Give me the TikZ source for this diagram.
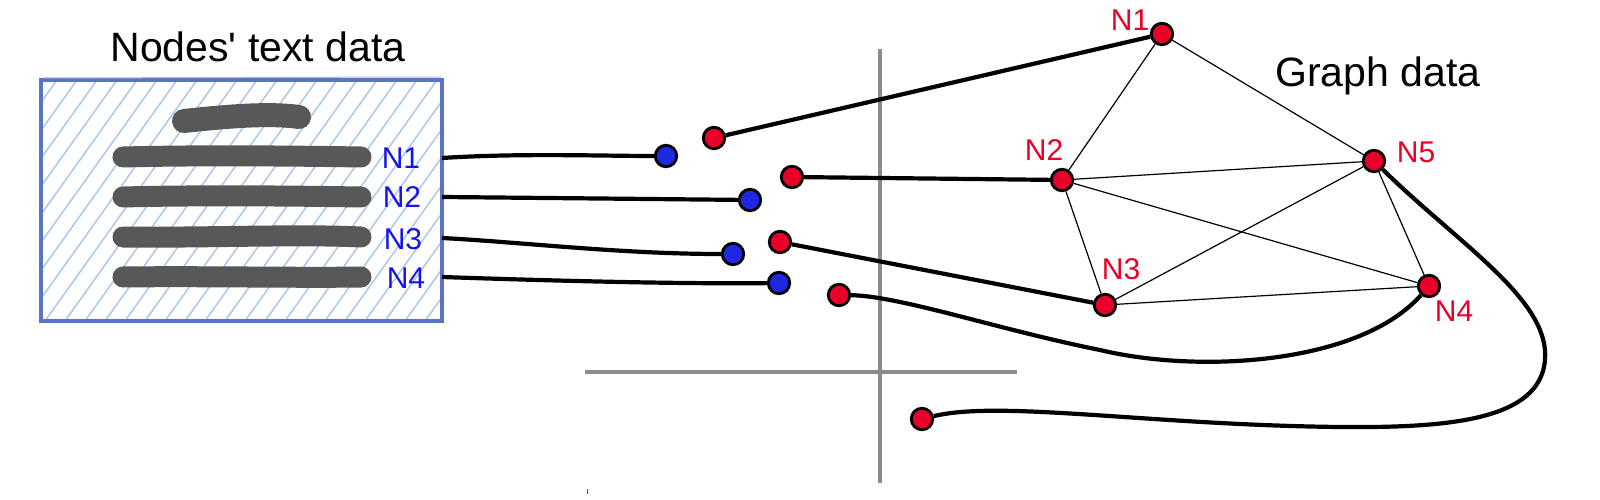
\documentclass[tikz,border=0pt]{standalone}
\usepackage{fontspec}
\setmainfont{Liberation Sans}
\definecolor{nred}{RGB}{232,0,40}
\definecolor{nblue}{RGB}{30,40,225}
\definecolor{lblue}{RGB}{20,20,235}
\definecolor{boxblue}{RGB}{88,115,200}
\definecolor{hatchc}{RGB}{172,198,236}
\definecolor{barc}{RGB}{88,88,88}
\definecolor{axisgray}{RGB}{140,140,140}
\tikzset{
  reddot/.style={circle, fill=nred, draw=black, line width=2.8pt, minimum size=21.5pt, inner sep=0pt},
  bluedot/.style={circle, fill=nblue, draw=black, line width=2.8pt, minimum size=21.5pt, inner sep=0pt},
  conn/.style={line width=4.2pt, black},
  gedge/.style={line width=1.2pt, black},
  bluelab/.style={text=lblue, font=\fontsize{30}{32}\selectfont, inner sep=0pt},
  redlab/.style={text=nred, font=\fontsize{30}{32}\selectfont, inner sep=0pt},
  titletext/.style={font=\fontsize{41}{48}\selectfont, inner sep=0pt, anchor=base},
  textbar/.style={line width=21pt, line cap=round, barc},
  hatchline/.style={hatchc, line width=1.5pt},
  axisline/.style={axisgray, line width=3.5pt},
}
\begin{document}
\begin{tikzpicture}[x=1pt, y=-1pt]
\useasboundingbox (0,0) rectangle (1600,500);

% text box
\begin{scope}
  \clip (41,80) rectangle (442,321);
  \foreach \i in {0,...,30} {
    \draw[hatchline] ({\i*20-135},321) -- ++(172,-241);
  }
\end{scope}
\draw[textbar, line width=24pt] (184,121) .. controls (230,116) and (270,113) .. (299,117);
\draw[textbar] (123,157) .. controls (200,155) and (300,156) .. (361,157);
\draw[textbar] (123,197) .. controls (200,195) and (300,196) .. (361,197);
\draw[textbar] (123,237) .. controls (200,238) and (300,234) .. (361,237);
\draw[textbar] (123,277) .. controls (200,276) and (300,278) .. (361,277);
\draw[boxblue, line width=3.2pt] (41,80) rectangle (442,321);
\draw[boxblue!50, line width=1pt] (43,78) -- (441,77);

\node[titletext] (ttl) at (258,62) {Nodes\textquotesingle{} text data};
\node[titletext] (gtl) at (1378,87) {Graph data};

% labels in box
\node[bluelab] (l1) at (401,158) {N1};
\node[bluelab] (l2) at (402,197) {N2};
\node[bluelab] (l3) at (403,239) {N3};
\node[bluelab] (l4) at (406,278) {N4};

\coordinate (b1) at (442,158);
\coordinate (b2) at (442,197);
\coordinate (b3) at (442,238);
\coordinate (b4) at (442,277);

% axes
\draw[axisline] (880,49) -- (880,483);
\draw[axisline] (585,372) -- (1017,372);
\draw[black!70, line width=1pt] (587,489) -- (587,494);

% dots
\node[bluedot] (d1) at (666,156) {};
\node[bluedot] (d2) at (750,200) {};
\node[bluedot] (d3) at (733,254) {};
\node[bluedot] (d4) at (779,283) {};

\node[reddot] (r1) at (714,138) {};
\node[reddot] (r2) at (792,177) {};
\node[reddot] (r3) at (780,242) {};
\node[reddot] (r4) at (839,295) {};
\node[reddot] (r5) at (922,419) {};

\node[reddot] (g1) at (1162,34) {};
\node[reddot] (g2) at (1062,180) {};
\node[reddot] (g3) at (1105,305) {};
\node[reddot] (g4) at (1429,286) {};
\node[reddot] (g5) at (1374,161) {};

\node[redlab] (m1) at (1130,20) {N1};
\node[redlab] (m2) at (1044,150) {N2};
\node[redlab] (m3) at (1121,269) {N3};
\node[redlab] (m4) at (1454,311) {N4};
\node[redlab] (m5) at (1416,152) {N5};

% graph edges
\draw[gedge] (g1) -- (g2);
\draw[gedge] (g1) -- (g5);
\draw[gedge] (g2) -- (g5);
\draw[gedge] (g2) -- (g3);
\draw[gedge] (g2) -- (g4);
\draw[gedge] (g3) -- (g5);
\draw[gedge] (g3) -- (g4);
\draw[gedge] (g5) -- (g4);

% connectors
\draw[conn] (b1) .. controls (520,153) and (600,156) .. (d1);
\draw[conn] (b2) .. controls (550,198) and (650,199) .. (d2);
\draw[conn] (b3) .. controls (520,242) and (620,254) .. (d3);
\draw[conn] (b4) .. controls (560,281) and (680,284) .. (d4);

\draw[conn] (r1) -- (g1);
\draw[conn] (r2) -- (g2);
\draw[conn] (r3) -- (g3);
\draw[conn] (r4) .. controls (900,296) and (1000,330) .. (1100,350) .. controls (1200,374) and (1360,364) .. (g4);
\draw[conn] (g5) .. controls (1460,245) and (1550,300) .. (1545,360) .. controls (1540,420) and (1450,428) .. (1340,427) .. controls (1150,425) and (1000,400) .. (r5);
\end{tikzpicture}
\end{document}
